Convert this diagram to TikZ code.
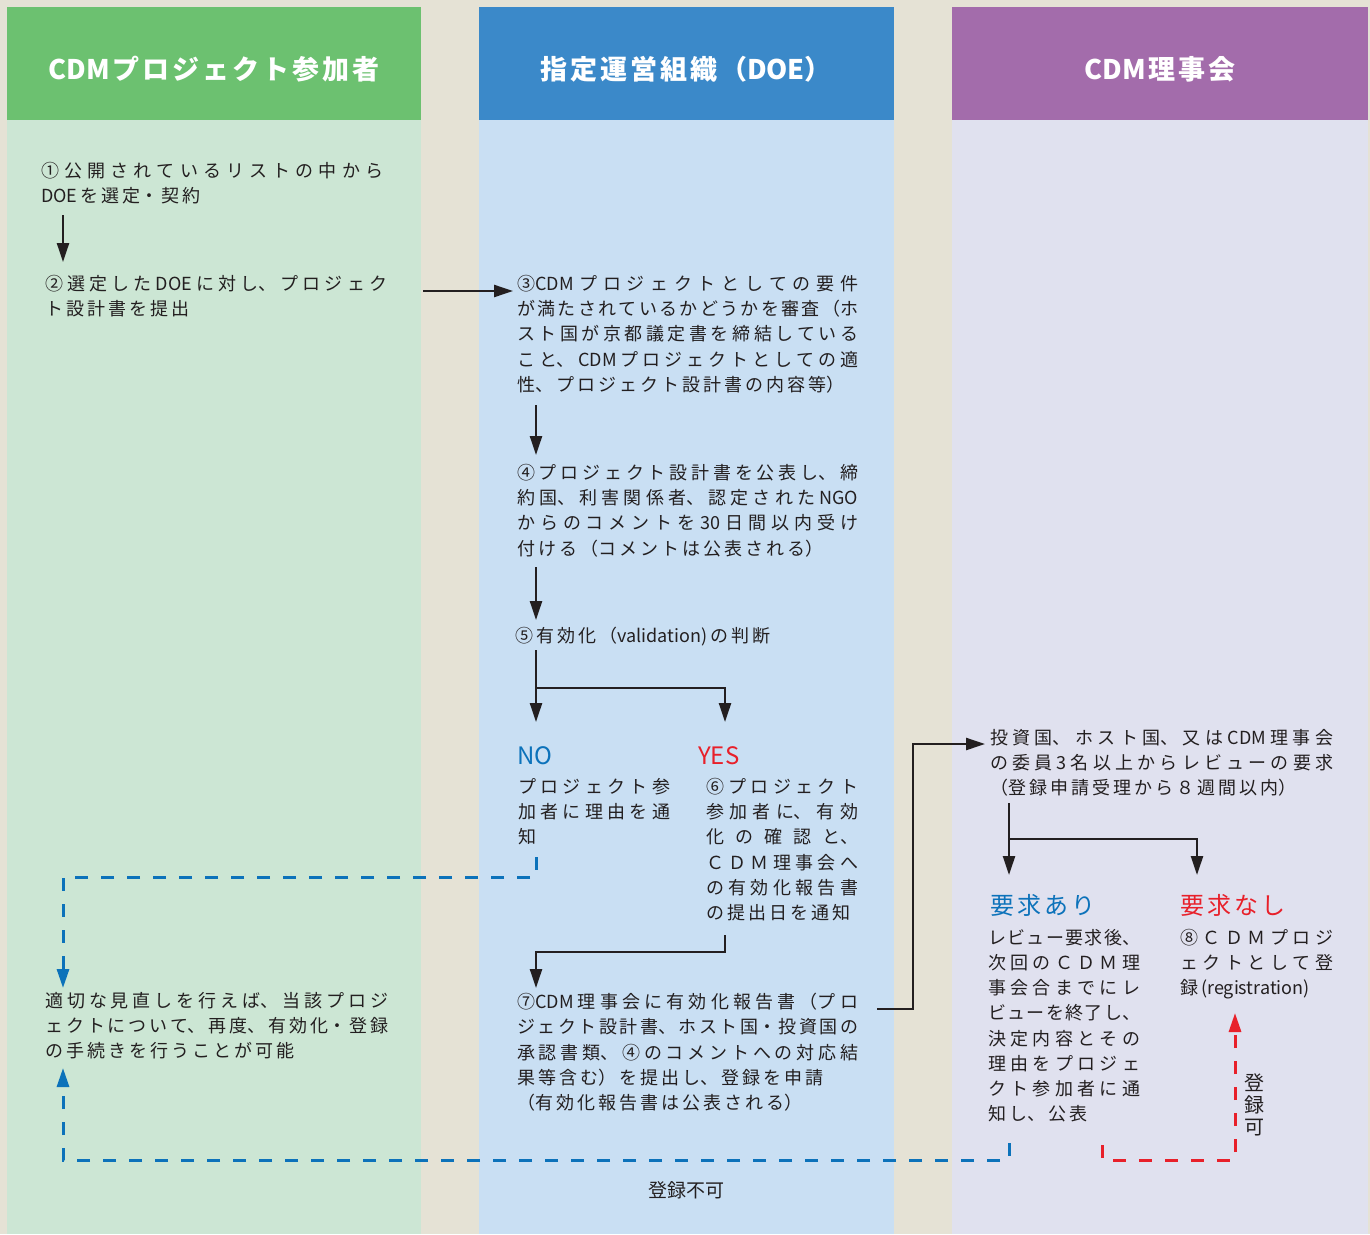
\documentclass[tikz,border=0pt]{standalone}
\usepackage{fontspec}
\setmainfont{Noto Sans CJK JP}
\usepackage{tikz}
\usetikzlibrary{arrows.meta}
\XeTeXlinebreaklocale "ja"
\XeTeXlinebreakskip=3pt plus 10pt minus 3pt
\XeTeXlinebreakpenalty=10000
\hyphenpenalty=10000
\tolerance=10000
\hbadness=10000
\definecolor{bg}{HTML}{E5E2D5}
\definecolor{grnhd}{HTML}{6CC170}
\definecolor{grnbd}{HTML}{CCE6D4}
\definecolor{bluhd}{HTML}{3B89C9}
\definecolor{blubd}{HTML}{C9DFF3}
\definecolor{purhd}{HTML}{A36CAB}
\definecolor{purbd}{HTML}{E0E1EF}
\definecolor{ink}{HTML}{231F20}
\definecolor{noblue}{HTML}{0C72BA}
\definecolor{yesred}{HTML}{E8202A}

\begin{document}
\begin{tikzpicture}[x=1pt,y=-1pt,
  head/.style={inner sep=0pt,text=white,text width=400pt,align=flush center,font=\bfseries\fontsize{27}{30}\selectfont},
  body/.style={anchor=north west,inner sep=0pt,text=ink,align=justify,font=\fontsize{18}{25.2}\selectfont},
  big/.style={anchor=north west,inner sep=0pt,text width=130pt,align=flush left,font=\fontsize{24}{28}\selectfont},
  arr/.style={draw=ink,line width=2.4pt,-{Triangle[length=19pt,width=12pt]}},
  dsh/.style={line width=3pt,dash pattern=on 13pt off 13pt,-{Triangle[length=19pt,width=12pt]}}]
  \fill[bg] (0,0) rectangle (1370,1234);
  \fill[grnhd] (7,7) rectangle (421,120);
  \fill[grnbd] (7,120) rectangle (421,1234);
  \fill[bluhd] (479,7) rectangle (894,120);
  \fill[blubd] (479,120) rectangle (894,1234);
  \fill[purhd] (952,7) rectangle (1368,120);
  \fill[purbd] (952,120) rectangle (1368,1234);

  \node[head] (hdpart) at (214,69) {CDMプロジェクト参加者};
  \node[head] (hddoe) at (686,69) {指定運営組織（DOE）};
  \node[head] (hdeb) at (1160,69) {CDM理事会};

  \node[body,text width=342pt] (sel) at (41,162) {①公開されているリストの中から\linebreak DOEを選定・契約};
  \node[body,text width=342pt] (sub) at (45,275) {②選定したDOEに対し、プロジェク\linebreak ト設計書を提出};
  \node[body,text width=341pt] (chk) at (517,275) {③CDMプロジェクトとしての要件\linebreak が満たされているかどうかを審査（ホ\linebreak スト国が京都議定書を締結している\linebreak こと、CDMプロジェクトとしての適\linebreak 性、プロジェクト設計書の内容等）};
  \node[body,text width=341pt] (pub) at (517,464) {④プロジェクト設計書を公表し、締\linebreak 約国、利害関係者、認定されたNGO\linebreak からのコメントを30日間以内受け\linebreak 付ける（コメントは公表される）};
  \node[body,text width=342pt] (val) at (515,627) {⑤有効化（validation)の判断};
  \node[big,text=noblue] (nolab) at (517,746) {NO};
  \node[body,text width=152pt] (notx) at (518,778) {プロジェクト参\linebreak 加者に理由を通\linebreak 知};
  \node[big,text=yesred] (yeslab) at (698,746) {YES};
  \node[body,text width=152pt] (yestx) at (706,778) {⑥プロジェクト\linebreak 参加者に、有効\linebreak 化の確認と、\linebreak ＣＤＭ理事会へ\linebreak の有効化報告書\linebreak の提出日を通知};
  \node[body,text width=341pt] (rep) at (517,993) {⑦CDM理事会に有効化報告書（プロ\linebreak ジェクト設計書、ホスト国・投資国の\linebreak 承認書類、④のコメントへの対応結\linebreak 果等含む）を提出し、登録を申請\hfil\break （有効化報告書は公表される）};
  \node[body,text width=343pt] (rev) at (990,729) {投資国、ホスト国、又はCDM理事会\linebreak の委員3名以上からレビューの要求\linebreak （登録申請受理から８週間以内）};
  \node[big,text=noblue] (asklab) at (990,894) {要求あり};
  \node[body,text width=152pt] (asktx) at (988,929) {レビュー要求後、\linebreak 次回のＣＤＭ理\linebreak 事会合までにレ\linebreak ビューを終了し、\linebreak 決定内容とその\linebreak 理由をプロジェ\linebreak クト参加者に通\linebreak 知し、公表};
  \node[big,text=yesred] (noasklab) at (1180,894) {要求なし};
  \node[body,text width=153pt] (noasktx) at (1180,929) {⑧ＣＤＭプロジ\linebreak ェクトとして登\linebreak 録(registration)};
  \node[body,text width=343pt] (redo) at (45,992) {適切な見直しを行えば、当該プロジ\linebreak ェクトについて、再度、有効化・登録\linebreak の手続きを行うことが可能};
  \node[inner sep=0pt,text=ink,align=center,font=\fontsize{20}{22}\selectfont] (okreg) at (1254,1105) {登\\録\\可};
  \node[inner sep=0pt,text=ink,font=\fontsize{19}{22}\selectfont] (ngreg) at (686,1190) {登録不可};

  \coordinate (vsplit) at ([shift={(21,61)}]val.north west);
  \coordinate (rsplit) at ([shift={(19,110)}]rev.north west);
  \draw[arr] ([shift={(22,53)}]sel.north west) -- ([shift={(18,-13)}]sub.north west);
  \draw[arr] ([shift={(378,16)}]sub.north west) -- ([shift={(-4,16)}]chk.north west);
  \draw[arr] ([shift={(19,130)}]chk.north west) -- ([shift={(19,-9)}]pub.north west);
  \draw[arr] ([shift={(19,103)}]pub.north west) -- ([shift={(21,-7)}]val.north west);
  \draw[arr] ([shift={(21,23)}]val.north west) -- ([shift={(19,-24)}]nolab.north west);
  \draw[arr] (vsplit) -| ([shift={(27,-24)}]yeslab.north west);
  \draw[arr] ([shift={(19,157)}]yestx.north west) -- ++(0,17) -| ([shift={(19,-5)}]rep.north west);
  \draw[arr] ([shift={(360,16)}]rep.north west) -- ++(36,0) |- ([shift={(-5,15)}]rev.north west);
  \draw[arr] ([shift={(19,74)}]rev.north west) -- ([shift={(19,-19)}]asklab.north west);
  \draw[arr] (rsplit) -| ([shift={(17,-19)}]noasklab.north west);
  \draw[dsh,draw=noblue] ([shift={(18,79)}]notx.north west) -- ++(0,20) -| ([shift={(18,-4)}]redo.north west);
  \draw[dsh,draw=noblue] ([shift={(21,214)}]asktx.north west) -- ++(0,17) -| ([shift={(18,76)}]redo.north west);
  \draw[dsh,draw=yesred] ([shift={(114,216)}]asktx.north west) -- ++(0,15) -| ([shift={(55,84)}]noasktx.north west);
\end{tikzpicture}
\end{document}
